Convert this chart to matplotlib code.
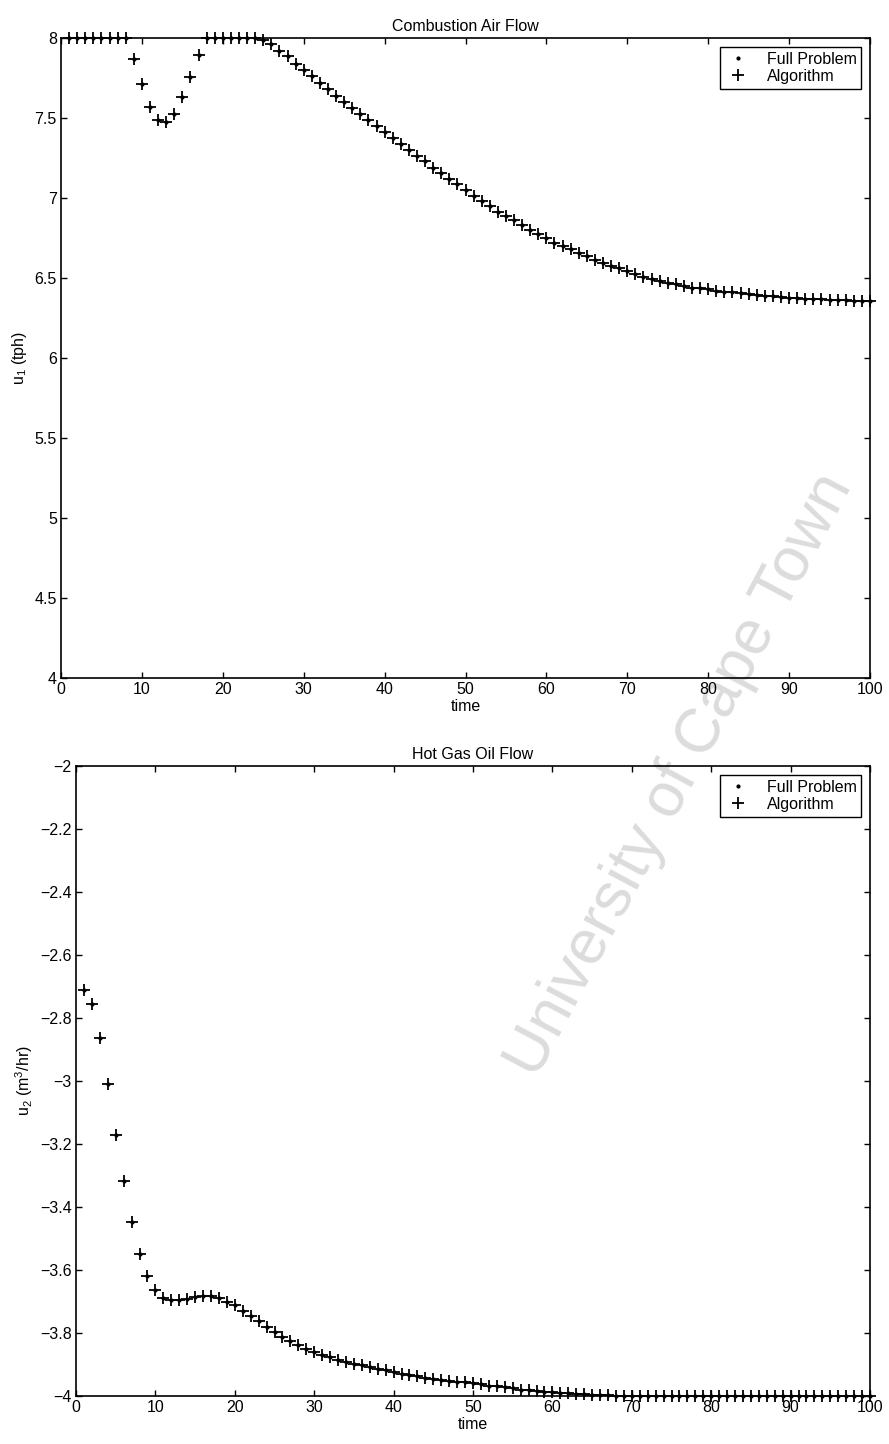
import numpy as np
import matplotlib
matplotlib.use("Agg")
import matplotlib.pyplot as plt
from matplotlib.ticker import FuncFormatter

plt.rcParams['font.family'] = ['Liberation Sans', 'DejaVu Sans']
plt.rcParams['mathtext.default'] = 'regular'

# sample times
t = np.arange(1, 101)

# Combustion air flow u1 (tph)
u1 = [8.0, 8.0, 8.0, 8.0, 8.0, 8.0, 8.0, 8.0, 7.87, 7.71,
      7.57, 7.49, 7.475, 7.525, 7.63, 7.755, 7.895, 8.0, 8.0, 8.0,
      8.0, 8.0, 8.0, 8.0, 7.99, 7.96, 7.92, 7.885, 7.84, 7.80,
      7.76, 7.72, 7.68, 7.64, 7.60, 7.565, 7.525, 7.49, 7.45, 7.415,
      7.375, 7.34, 7.30, 7.265, 7.23, 7.19, 7.155, 7.12, 7.085, 7.05,
      7.015, 6.98, 6.95, 6.915, 6.885, 6.86, 6.83, 6.80, 6.775, 6.75,
      6.72, 6.70, 6.68, 6.655, 6.635, 6.615, 6.595, 6.578, 6.56, 6.543,
      6.523, 6.508, 6.495, 6.48, 6.47, 6.46, 6.45, 6.44, 6.435, 6.43,
      6.42, 6.415, 6.41, 6.405, 6.40, 6.395, 6.39, 6.385, 6.38, 6.377,
      6.374, 6.371, 6.368, 6.366, 6.364, 6.362, 6.36, 6.358, 6.357, 6.356]

# Hot gas oil flow u2 (m3/hr)
u2 = [-2.71, -2.755, -2.864, -3.01, -3.17, -3.318, -3.448, -3.548, -3.62, -3.662,
      -3.688, -3.696, -3.696, -3.691, -3.686, -3.684, -3.684, -3.689, -3.702, -3.712,
      -3.729, -3.745, -3.762, -3.781, -3.797, -3.813, -3.826, -3.839, -3.850, -3.860,
      -3.869, -3.876, -3.885, -3.892, -3.897, -3.903, -3.908, -3.913, -3.919, -3.924,
      -3.929, -3.934, -3.938, -3.942, -3.945, -3.949, -3.952, -3.954, -3.957, -3.960,
      -3.963, -3.967, -3.969, -3.973, -3.976, -3.980, -3.982, -3.984, -3.986, -3.988,
      -3.990, -3.991, -3.993, -3.995, -3.996, -3.997, -3.998, -3.999, -3.9995, -4.0,
      -4.0, -4.0, -4.0, -4.0, -4.0, -4.0, -4.0, -4.0, -4.0, -4.0,
      -4.0, -4.0, -4.0, -4.0, -4.0, -4.0, -4.0, -4.0, -4.0, -4.0,
      -4.0, -4.0, -4.0, -4.0, -4.0, -4.0, -4.0, -4.0, -4.0, -4.0]

xticks = np.arange(0, 101, 10)
yticks1 = np.arange(4, 8.01, 0.5)
yticks2 = np.arange(-4, -1.99, 0.2)

fig = plt.figure(figsize=(8.89, 14.44), dpi=100)
ax1 = fig.add_axes([61/889, 1 - 678/1444, 809/889, 640/1444])
ax2 = fig.add_axes([76/889, 1 - 1396/1444, 794/889, 630/1444])

fmt = FuncFormatter(lambda v, p: ('%g' % round(v, 3)).replace('-', '\u2212'))

def setup(ax, y, title, ylabel, ylim, yticks):
    ax.set_facecolor('none')
    ax.plot(t, y, '.', color='k', markersize=4, label='Full Problem', clip_on=False)
    ax.plot(t, y, '+', color='k', markersize=8, mew=1.3, label='Algorithm', clip_on=False)
    ax.set_xlim(0, 100)
    ax.set_ylim(*ylim)
    ax.set_xticks(xticks)
    ax.set_yticks(yticks)
    ax.yaxis.set_major_formatter(fmt)
    ax.tick_params(direction='in', length=4, width=1, top=True, right=True,
                   labelsize=11.5, pad=3)
    for s in ax.spines.values():
        s.set_linewidth(1.2)
    ax.set_title(title, fontsize=11.5, pad=5)
    ax.set_xlabel('time', fontsize=11.5, labelpad=1)
    ax.set_ylabel(ylabel, fontsize=11.5, labelpad=4)
    leg = ax.legend(loc='upper right', fontsize=11.5, fancybox=False,
                    framealpha=1, edgecolor='k', borderaxespad=0.55,
                    handlelength=1.6, handletextpad=1.0, borderpad=0.3,
                    labelspacing=0.15)
    leg.get_frame().set_linewidth(1.0)

setup(ax1, u1, 'Combustion Air Flow', 'u$_1$ (tph)', (4, 8), yticks1)
setup(ax2, u2, 'Hot Gas Oil Flow', 'u$_2$ (m$^3$/hr)', (-4, -2), yticks2)

fig.text(680/889, 1 - 775/1444, 'University of Cape Town', fontsize=45,
         color='#dcdcdc', rotation=62, ha='center', va='center',
         rotation_mode='anchor', zorder=-1)

fig.savefig('out.png', dpi=100, facecolor='white')
